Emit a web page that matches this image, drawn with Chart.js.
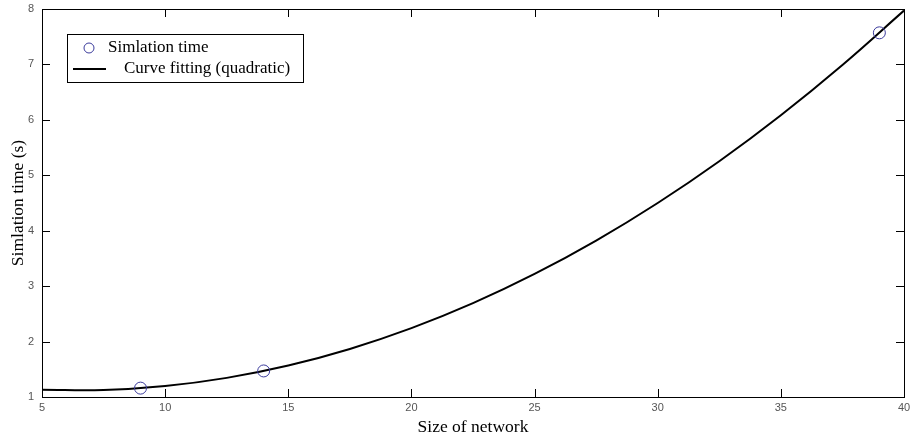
<!DOCTYPE html>
<html>
<head>
<meta charset="utf-8">
<script src="https://cdn.jsdelivr.net/npm/chart.js@4"></script>
<style>
  html, body { margin: 0; padding: 0; background: #fff; overflow: hidden; }
  #wrap { width: 911px; height: 438px; }
  canvas { display: block; }
</style>
</head>
<body>
<div id="wrap"><canvas id="chart"></canvas></div>
<script>
// measured simulation times
const sizes = [9, 14, 39];
const simTimes = [1.16, 1.47, 7.57];

// quadratic fit curve
const fitX = [5, 7.5, 10, 12.5, 15, 17.5, 20, 22.5, 25, 27.5, 30, 32.5, 35, 37.5, 40];
const fitY = [1.13, 1.126, 1.198, 1.345, 1.568, 1.867, 2.242, 2.693, 3.22, 3.822, 4.5, 5.254, 6.084, 6.991, 7.972];

const xTicks = [5, 10, 15, 20, 25, 30, 35, 40];
const yTicks = [1, 2, 3, 4, 5, 6, 7, 8];

// box + inward ticks, matlab style
const frame = {
    id: 'frame',
    afterDatasetsDraw(chart) {
        const { ctx, chartArea: a, scales } = chart;
        ctx.save();
        ctx.strokeStyle = '#000';
        ctx.lineWidth = 1;
        ctx.strokeRect(a.left + 0.5, a.top + 0.5, a.right - a.left, a.bottom - a.top);
        ctx.beginPath();
        xTicks.forEach(v => {
            const px = Math.round(scales.x.getPixelForValue(v)) + 0.5;
            ctx.moveTo(px, a.bottom); ctx.lineTo(px, a.bottom - 8);
            ctx.moveTo(px, a.top); ctx.lineTo(px, a.top + 8);
        });
        yTicks.forEach(v => {
            const py = Math.round(scales.y.getPixelForValue(v)) + 0.5;
            ctx.moveTo(a.left, py); ctx.lineTo(a.left + 8, py);
            ctx.moveTo(a.right, py); ctx.lineTo(a.right - 8, py);
        });
        ctx.stroke();

        // legend box
        ctx.fillStyle = '#fff';
        ctx.fillRect(67, 34, 236, 48);
        ctx.strokeRect(67.5, 34.5, 236, 48);
        ctx.strokeStyle = '#3b3b9c';
        ctx.beginPath();
        ctx.arc(89, 48, 5, 0, Math.PI * 2);
        ctx.stroke();
        ctx.strokeStyle = '#000';
        ctx.lineWidth = 2;
        ctx.beginPath();
        ctx.moveTo(73, 69); ctx.lineTo(106, 69);
        ctx.stroke();
        ctx.fillStyle = '#000';
        ctx.font = '17px "Liberation Serif"';
        ctx.textBaseline = 'middle';
        ctx.fillText('Simlation time', 108, 48);
        ctx.fillText('Curve fitting (quadratic)', 124, 69);
        ctx.restore();
    }
};

new Chart(document.getElementById('chart'), {
    type: 'scatter',
    data: {
        datasets: [
            {
                label: 'Curve fitting (quadratic)',
                data: fitX.map((x, i) => ({ x: x, y: fitY[i] })),
                showLine: true,
                borderColor: '#000',
                borderWidth: 2,
                pointRadius: 0,
                tension: 0.4,
                order: 2
            },
            {
                label: 'Simlation time',
                data: sizes.map((x, i) => ({ x: x, y: simTimes[i] })),
                showLine: false,
                pointRadius: 6,
                pointBorderColor: '#3b3b9c',
                pointBackgroundColor: 'rgba(0,0,0,0)',
                pointBorderWidth: 1,
                order: 1
            }
        ]
    },
    options: {
        responsive: true,
        maintainAspectRatio: false,
        animation: false,
        layout: { padding: { left: 0, top: 9, right: 4, bottom: 0 } },
        plugins: { legend: { display: false }, tooltip: { enabled: false } },
        scales: {
            x: {
                type: 'linear', min: 5, max: 40,
                afterBuildTicks: s => { s.ticks = xTicks.map(v => ({ value: v })); },
                afterFit: s => { s.height = 41; s.paddingLeft = 0; s.paddingRight = 0; },
                grid: { display: false, drawTicks: false },
                border: { display: false },
                ticks: { color: '#555', font: { family: 'Liberation Sans', size: 11 }, padding: 4, maxRotation: 0 },
                title: { display: true, text: 'Size of network', color: '#000', font: { family: 'Liberation Serif', size: 17.5 }, padding: { top: 0, bottom: 0 } }
            },
            y: {
                type: 'linear', min: 1, max: 8,
                afterBuildTicks: s => { s.ticks = yTicks.map(v => ({ value: v })); },
                afterFit: s => { s.width = 42; s.paddingTop = 0; s.paddingBottom = 0; },
                grid: { display: false, drawTicks: false },
                border: { display: false },
                ticks: { color: '#555', font: { family: 'Liberation Sans', size: 11 }, padding: 8 },
                title: { display: true, text: 'Simlation time (s)', color: '#000', font: { family: 'Liberation Serif', size: 17.5 }, padding: { top: 8, bottom: 0 } }
            }
        }
    },
    plugins: [frame]
});
</script>
</body>
</html>
